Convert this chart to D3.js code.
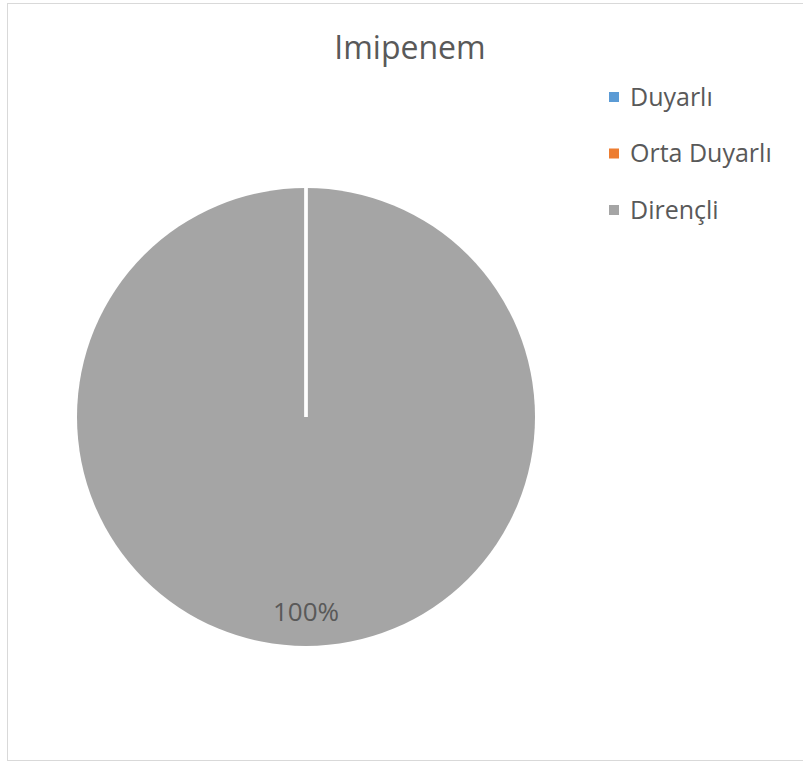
<!DOCTYPE html>
<html>
<head>
<meta charset="utf-8">
<script src="https://cdn.jsdelivr.net/npm/d3@7"></script>
<style>
  body { margin: 0; background: #fff; }
  text { font-family: "Open Sans", "Noto Sans", sans-serif; fill: #595959; }
</style>
</head>
<body>
<div class="chart"></div>
<script>
// chart data
const categories = ['Duyarlı', 'Orta Duyarlı', 'Dirençli'];
const values = [0, 0, 100];
const colors = ['#5b9bd5', '#ed7d31', '#a5a5a5'];
const title = 'Imipenem';

const width = 803, height = 762;
const cx = 306, cy = 417, radius = 229;

const svg = d3.select('.chart').append('svg')
    .attr('width', width)
    .attr('height', height);

// chart area border
svg.append('rect')
    .attr('x', 7.5)
    .attr('y', 3.5)
    .attr('width', 810)
    .attr('height', 757)
    .attr('fill', 'none')
    .attr('stroke', '#d9d9d9');

svg.append('text')
    .text(title)
    .attr('x', 410)
    .attr('y', 59)
    .attr('text-anchor', 'middle')
    .attr('font-size', '32px');

const pie = d3.pie().sort(null).value(d => d.v);
const arcs = pie(categories.map((c, i) => ({ c: c, v: values[i] })));
const arc = d3.arc().innerRadius(0).outerRadius(radius);
const labelArc = d3.arc().innerRadius(radius * 0.85).outerRadius(radius * 0.85);

const g = svg.append('g')
    .attr('transform', `translate(${cx},${cy})`);

g.selectAll('path')
    .data(arcs)
    .enter()
    .append('path')
    .attr('d', arc)
    .attr('fill', (d, i) => colors[i]);

// white slice borders, drawn on top so zero slices still show a seam
g.selectAll('.seam')
    .data(arcs)
    .enter()
    .append('line')
    .attr('class', 'seam')
    .attr('x1', 0)
    .attr('y1', 0)
    .attr('x2', d => radius * Math.sin(d.startAngle))
    .attr('y2', d => -radius * Math.cos(d.startAngle))
    .attr('stroke', '#fff')
    .attr('stroke-width', 3);

// only non-zero slices get a label
g.selectAll('.lbl')
    .data(arcs.filter(d => d.data.v > 0))
    .enter()
    .append('text')
    .attr('class', 'lbl')
    .attr('transform', d => {
        const total = d3.sum(values);
        // full circle: put label at the bottom like Excel does
        if (d.data.v === total) return `translate(0, ${radius * 0.85})`;
        return `translate(${labelArc.centroid(d)})`;
    })
    .attr('text-anchor', 'middle')
    .attr('dy', '0.35em')
    .attr('font-size', '26px')
    .text(d => Math.round(d.data.v / d3.sum(values) * 100) + '%');

// legend
const legend = svg.append('g')
    .attr('transform', 'translate(609, 97)');

const item = legend.selectAll('.item')
    .data(categories)
    .enter()
    .append('g')
    .attr('class', 'item')
    .attr('transform', (d, i) => `translate(0, ${i * 56.5})`);

item.append('rect')
    .attr('x', 0)
    .attr('y', -5)
    .attr('width', 10)
    .attr('height', 10)
    .attr('fill', (d, i) => colors[i]);

item.append('text')
    .attr('x', 21)
    .attr('dy', '0.35em')
    .attr('font-size', '25px')
    .text(d => d);
</script>
</body>
</html>
